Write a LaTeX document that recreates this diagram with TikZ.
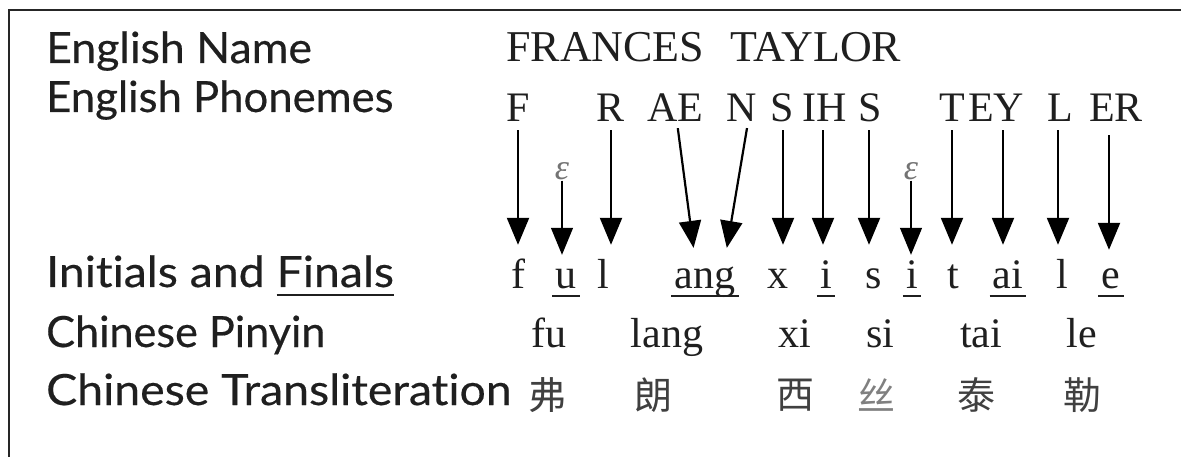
\documentclass[tikz,border=0pt]{standalone}
\usepackage{fontspec}
\setmainfont{Liberation Serif}
\newfontfamily\labelfont[Ligatures=NoCommon, FakeStretch=1.08, FakeBold=0.4]{Lato}
\newfontfamily\cjk{Noto Sans CJK SC}
\usetikzlibrary{arrows.meta}
\colorlet{ink}{black!88}
% underline a word with a heavy rule set 7--9pt below the baseline
\newcommand\ulword[1]{\setbox0\hbox{#1}\rlap{\rule[-9pt]{\wd0}{2.2pt}}\box0}
% squeeze a label horizontally
\newcommand\squeeze[2]{\scalebox{#1}[1]{#2}}

\begin{document}
\begin{tikzpicture}[x=1pt,y=-1pt,
  lbl/.style={anchor=base west, inner sep=0pt, font=\labelfont\fontsize{43}{50}\selectfont, text=ink},
  ph/.style={anchor=base, inner sep=0pt, text depth=0pt, font=\fontsize{42}{50}\selectfont, text=ink},
  seg/.style={anchor=base, inner xsep=3pt, inner ysep=0pt, text height=29pt, text depth=8pt, font=\fontsize{42}{50}\selectfont, text=ink},
  py/.style={anchor=base, inner sep=0pt, font=\fontsize{42}{50}\selectfont, text=ink},
  hz/.style={anchor=center, inner sep=0pt, font=\cjk\fontsize{38}{44}\selectfont, text=black!75},
  eps/.style={anchor=base, inner sep=0pt, font=\itshape\fontsize{36}{40}\selectfont, text=black!55},
  arr/.style={-{Triangle[width=22pt,length=27pt]}, line width=2.2pt, draw=black, shorten <=8pt, shorten >=14pt},
  thinarr/.style={-{Triangle[width=22pt,length=27pt]}, line width=1.3pt, draw=black, shorten >=4pt},
  uline/.style={line width=2pt, draw=ink},
  frame/.style={line width=2.5pt, draw=black!85}
]
\fill[white] (0,0) rectangle (1181,457);
\useasboundingbox (0,0) rectangle (1181,457);
\draw[frame] (1185,10) -- (9,10) -- (9,462);

% row labels
\node[lbl] (lname) at (46,63)  {\squeeze{0.96}{English Name}};
\node[lbl] (lphon) at (46,112) {\squeeze{0.94}{English Phonemes}};
\node[lbl] (lseg)  at (46,287) {Initials and \ulword{Finals}};
\node[lbl] (lpy)   at (46,347) {\squeeze{0.93}{Chinese Pinyin}};
\node[lbl] (lhz)   at (46,405) {Chinese Transliteration};

% English name
\node[ph, anchor=base west, font=\fontsize{44}{50}\selectfont] (name) at (506,62) {FRANCES\hspace{26pt}TAYLOR};

% English phonemes
\node[ph] (pF)  at (518,122)  {F};
\node[ph] (pR)  at (611,122)  {R};
\node[ph] (pAE) at (675,122)  {AE};
\node[ph] (pN)  at (742,122)  {N};
\node[ph] (pS1) at (782,122)  {S};
\node[ph] (pIH) at (825,122)  {IH};
\node[ph] (pS2) at (870,122)  {S};
\node[ph] (pT)  at (952,122)  {T};
\node[ph] (pEY) at (996,122)  {EY};
\node[ph] (pL)  at (1060,122) {L};
\node[ph] (pER) at (1116,122) {ER};

% inserted empty vowels
\node[eps] (e1) at (562,180) {ε};
\node[eps] (e2) at (911,180) {ε};

% initials and finals
\node[seg] (sf)   at (518,288)  {f};
\node[seg] (su)   at (566,288)  {u};
\node[seg] (sl)   at (603,288)  {l};
\node[seg] (sang) at (705,288)  {ang};
\node[seg] (sx)   at (778,288)  {x};
\node[seg] (si1)  at (826,288)  {i};
\node[seg] (ss)   at (874,288)  {s};
\node[seg] (si2)  at (912,288)  {i};
\node[seg] (st)   at (953,288)  {t};
\node[seg] (sai)  at (1008,288) {ai};
\node[seg] (sl2)  at (1062,288) {l};
\node[seg] (se)   at (1111,288) {e};

% finals are underlined
\foreach \s in {su,sang,si1,si2,sai,se}
  \draw[uline] (\s.south west) -- (\s.south east);

% pinyin syllables
\node[py] (yfu)   at (549,347)  {fu};
\node[py] (ylang) at (667,347)  {lang};
\node[py] (yxi)   at (795,347)  {xi};
\node[py] (ysi)   at (880,347)  {si};
\node[py] (ytai)  at (981,347)  {tai};
\node[py] (yle)   at (1082,347) {le};

% characters
\node[hz] (hfu)   at (547,395)  {弗};
\node[hz] (hlang) at (653,395)  {朗};
\node[hz] (hxi)   at (795,395)  {西};
\node[hz, text=black!50] (hsi) at (876,395) {丝};
\node[hz] (htai)  at (976,395)  {泰};
\node[hz] (hle)   at (1082,395) {勒};

% phoneme to initial/final mappings
\draw[arr] (pF.south) -- (pF.south |- sf.north);
\draw[arr] (pR.south) -- (pR.south |- sl.north);
\draw[arr, shorten <=6pt, shorten >=11pt] ([xshift=2pt]pAE.south) -- ([xshift=-10pt]sang.north);
\draw[arr, shorten <=6pt, shorten >=11pt] ([xshift=6pt]pN.south) -- ([xshift=20pt]sang.north);
\draw[arr] ([xshift=1pt]pS1.south) -- ([xshift=1pt]pS1.south |- sx.north);
\draw[arr] ([xshift=-2pt]pIH.south) -- ([xshift=-2pt]pIH.south |- si1.north);
\draw[arr] ([xshift=-1pt]pS2.south) -- ([xshift=-1pt]pS2.south |- ss.north);
\draw[arr] (pT.south) -- (pT.south |- st.north);
\draw[arr] ([xshift=7pt]pEY.south) -- ([xshift=7pt]pEY.south |- sai.north);
\draw[arr] ([xshift=-2pt]pL.south) -- ([xshift=-2pt]pL.south |- sl2.north);
\draw[arr, shorten <=13pt, shorten >=9pt] ([xshift=-7pt]pER.south) -- ([xshift=-7pt]pER.south |- se.north);
\draw[thinarr] (e1.south) -- (e1.south |- su.north);
\draw[thinarr] (e2.south) -- (e2.south |- si2.north);
\end{tikzpicture}
\end{document}
